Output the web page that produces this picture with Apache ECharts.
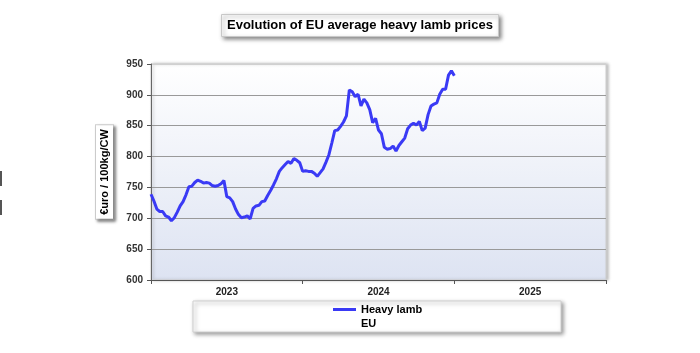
<!DOCTYPE html>
<html>
<head>
<meta charset="utf-8">
<script src="https://cdn.jsdelivr.net/npm/echarts@6/dist/echarts.min.js"></script>
<style>
    html, body { margin: 0; padding: 0; background: #fff; }
    #lambChart { width: 700px; height: 353px; }
</style>
</head>
<body>
<div id="lambChart"></div>
<script>
// weekly EU heavy lamb price, €/100kg CW, from week 1 of 2023
let lambPrices = [
    739, 728, 715, 711, 711, 704, 702, 696, 701, 710,
    720, 727, 738, 751, 752, 758, 762, 760, 757, 758,
    757, 753, 752, 753, 756, 761, 735, 733, 727, 715,
    706, 701, 702, 704, 699, 716, 720, 721, 727, 728,
    737, 745, 754, 764, 776, 782, 787, 792, 789, 797,
    794, 790, 776, 777, 776, 776, 773, 768, 774, 780,
    791, 803, 822, 842, 843, 849, 856, 866, 908, 905,
    897, 901, 882, 893, 887, 876, 855, 862, 843, 837,
    815, 812, 813, 817, 809, 818, 824, 830, 845, 851,
    854, 851, 857, 842, 846, 868, 882, 885, 887, 901,
    909, 909, 932, 939, 931
];
let years = ['2023', '2024', '2025'];
let weeksPerYear = 52;
let seriesName = 'Heavy lamb';
let seriesSubName = 'EU';

let font = '"Liberation Sans", Arial, sans-serif';
let lineColor = '#3a3af5';

let chart = echarts.init(document.getElementById('lambChart'));

let option = {
    animation: false,
    backgroundColor: '#fff',
    title: {
        text: 'Evolution of EU average heavy lamb prices',
        left: 221,
        top: 14,
        padding: [5, 6, 5, 6],
        backgroundColor: '#fff',
        borderColor: '#c8c8c8',
        borderWidth: 1,
        shadowColor: 'rgba(0,0,0,0.45)',
        shadowBlur: 4,
        shadowOffsetX: 2,
        shadowOffsetY: 2,
        textStyle: { fontFamily: font, fontSize: 13, fontWeight: 'bold', color: '#000' }
    },
    legend: {
        data: [seriesName],
        left: 333,
        top: 304,
        padding: 0,
        itemWidth: 23,
        itemHeight: 3,
        icon: 'rect',
        itemStyle: { color: lineColor },
        textStyle: { fontFamily: font, fontSize: 11, fontWeight: 'bold', color: '#000' }
    },
    grid: {
        left: 151,
        right: 94,
        top: 64,
        bottom: 73,
        show: true,
        borderColor: '#cfcfcf',
        borderWidth: 1,
        shadowColor: 'rgba(0,0,0,0.25)',
        shadowBlur: 3,
        shadowOffsetX: 2,
        shadowOffsetY: 0,
        backgroundColor: new echarts.graphic.LinearGradient(0, 0, 0, 1, [
            { offset: 0, color: '#ffffff' },
            { offset: 1, color: '#dde3f2' }
        ])
    },
    xAxis: [
        {
            type: 'value',
            min: 0,
            max: weeksPerYear * years.length,
            interval: weeksPerYear,
            axisLine: { show: true, lineStyle: { color: '#555', width: 1 } },
            axisTick: { show: true, length: 4, lineStyle: { color: '#555' } },
            axisLabel: { show: false },
            splitLine: { show: false }
        },
        {
            type: 'category',
            data: years,
            position: 'bottom',
            boundaryGap: true,
            axisLine: { show: false },
            axisTick: { show: false },
            axisLabel: {
                margin: 7,
                fontFamily: font, fontSize: 10, fontWeight: 'bold', color: '#222'
            }
        }
    ],
    yAxis: {
        type: 'value',
        min: 600,
        max: 950,
        interval: 50,
        name: '€uro / 100kg/CW',
        nameLocation: 'middle',
        nameRotate: 90,
        nameGap: 38,
        nameTextStyle: {
            fontFamily: font, fontSize: 11, fontWeight: 'bold', color: '#000',
            backgroundColor: '#fff',
            borderColor: '#d0d0d0',
            borderWidth: 1,
            padding: [3, 4, 3, 4],
            shadowColor: 'rgba(0,0,0,0.4)',
            shadowBlur: 3,
            shadowOffsetX: 2,
            shadowOffsetY: 2
        },
        axisLine: { show: true, lineStyle: { color: '#666', width: 1 } },
        axisTick: { show: true, length: 4, lineStyle: { color: '#555' } },
        axisLabel: {
            margin: 8,
            fontFamily: font, fontSize: 10, fontWeight: 'bold', color: '#333'
        },
        splitLine: {
            show: true,
            lineStyle: {
                color: ['#999', '#999', '#999', '#999', '#999', '#999', '#999', '#d0d0d0'],
                width: 1
            }
        }
    },
    graphic: [
        {
            type: 'rect',
            z: -1,
            shape: { x: 193, y: 301, width: 368, height: 31 },
            style: {
                fill: '#fff',
                stroke: '#d0d0d0',
                lineWidth: 1,
                shadowColor: 'rgba(0,0,0,0.4)',
                shadowBlur: 4,
                shadowOffsetX: 2,
                shadowOffsetY: 2
            }
        },
        {
            type: 'text',
            left: 361,
            top: 318,
            style: { text: seriesSubName, font: 'bold 11px ' + font, fill: '#000' }
        },
        { type: 'rect', shape: { x: 0, y: 171, width: 2, height: 15 }, style: { fill: '#555' } },
        { type: 'rect', shape: { x: 0, y: 200, width: 2, height: 15 }, style: { fill: '#555' } }
    ],
    series: [
        {
            name: seriesName,
            type: 'line',
            xAxisIndex: 0,
            symbol: 'none',
            lineStyle: { color: lineColor, width: 3 },
            itemStyle: { color: lineColor },
            data: lambPrices.map(function (v, i) { return [i, v]; })
        }
    ]
};

chart.setOption(option);
</script>
</body>
</html>
